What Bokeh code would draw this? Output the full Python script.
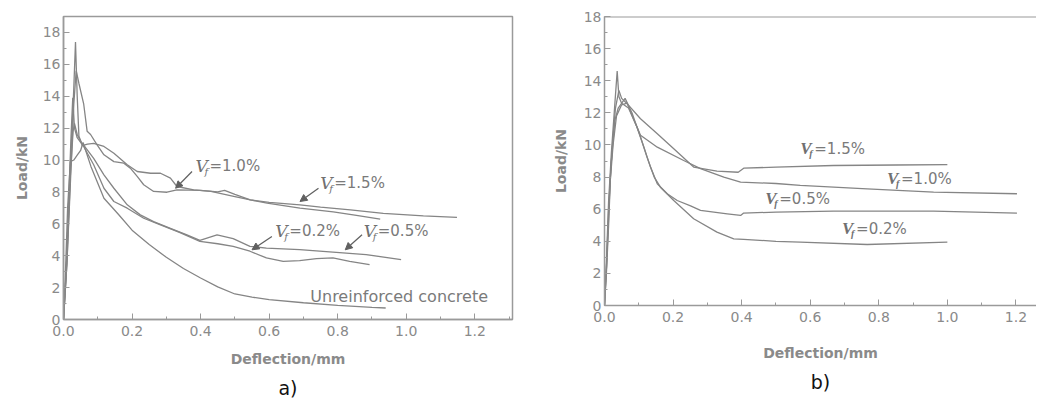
from bokeh.plotting import figure
from bokeh.layouts import row
from bokeh.models import (SingleIntervalTicker, PrintfTickFormatter, Range1d, Title,
                          Arrow, NormalHead, Span)
from bokeh.core.properties import value
from bokeh.embed import file_html
from bokeh.resources import INLINE

# ---------------- data: panel a ----------------
a_plain_x = [0, 0.005, 0.012, 0.02, 0.03, 0.04, 0.05, 0.057, 0.08, 0.118, 0.16, 0.2, 0.25, 0.3,
             0.35, 0.4, 0.45, 0.5, 0.55, 0.6, 0.7, 0.8, 0.9, 0.94]
a_plain_y = [0, 2.5, 7.0, 9.9, 10.0, 10.3, 10.6, 11.1, 9.6, 7.6, 6.6, 5.6, 4.7, 3.9,
             3.2, 2.6, 2.05, 1.6, 1.4, 1.25, 1.05, 0.88, 0.76, 0.72]
a_15_x = [0, 0.01, 0.02, 0.03, 0.035, 0.04, 0.045, 0.055, 0.07, 0.088, 0.118, 0.147, 0.186, 0.215,
          0.254, 0.283, 0.312, 0.331, 0.38, 0.43, 0.5, 0.545, 0.6, 0.69, 0.75, 0.837, 0.933, 1.05, 1.148]
a_15_y = [0, 4.0, 9.5, 14.5, 17.4, 14.0, 11.5, 10.9, 11.0, 11.05, 10.85, 10.43, 9.7, 9.28,
          9.17, 9.17, 8.86, 8.34, 8.13, 8.03, 7.71, 7.5, 7.35, 7.19, 7.05, 6.88, 6.66, 6.5, 6.4]
a_10_x = [0, 0.01, 0.02, 0.03, 0.037, 0.045, 0.059, 0.069, 0.079, 0.098, 0.118, 0.147, 0.176, 0.195,
          0.215, 0.234, 0.263, 0.302, 0.331, 0.4, 0.45, 0.47, 0.5, 0.545, 0.594, 0.69, 0.787, 0.85, 0.924]
a_10_y = [0, 3.5, 8.5, 13.5, 15.6, 14.8, 13.5, 11.8, 11.6, 10.95, 10.33, 9.9, 9.8, 9.49,
          8.97, 8.45, 8.03, 7.98, 8.13, 8.1, 8.0, 8.1, 7.85, 7.5, 7.3, 6.98, 6.75, 6.55, 6.3]
a_05_x = [0, 0.008, 0.016, 0.022, 0.027, 0.032, 0.04, 0.05, 0.06, 0.088, 0.118, 0.147, 0.186, 0.224,
          0.263, 0.312, 0.36, 0.398, 0.448, 0.495, 0.544, 0.592, 0.689, 0.786, 0.883, 0.985]
a_05_y = [0, 3.0, 8.0, 11.5, 13.9, 12.0, 11.4, 11.1, 10.9, 10.1, 9.07, 8.23, 7.19, 6.56,
          6.14, 5.72, 5.31, 4.96, 5.31, 5.07, 4.59, 4.48, 4.38, 4.23, 4.07, 3.76]
a_02_x = [0, 0.01, 0.02, 0.028, 0.032, 0.04, 0.05, 0.06, 0.088, 0.118, 0.147, 0.186, 0.234, 0.283,
          0.34, 0.398, 0.45, 0.495, 0.544, 0.592, 0.641, 0.689, 0.738, 0.786, 0.835, 0.893]
a_02_y = [0, 3.5, 9.0, 11.8, 12.3, 11.6, 11.2, 10.8, 9.7, 8.23, 7.4, 6.98, 6.35, 5.93,
          5.45, 4.9, 4.75, 4.59, 4.28, 3.86, 3.65, 3.69, 3.82, 3.86, 3.65, 3.44]

# ---------------- data: panel b ----------------
b_15_x = [0, 0.006, 0.012, 0.017, 0.025, 0.032, 0.042, 0.05, 0.066, 0.105, 0.154, 0.202, 0.26,
          0.328, 0.39, 0.397, 0.406, 0.5, 0.668, 0.85, 1.0]
b_15_y = [0, 2.5, 5.5, 8.0, 10.5, 12.3, 13.4, 12.9, 12.57, 11.63, 10.7, 9.76, 8.62,
          8.37, 8.3, 8.41, 8.55, 8.62, 8.72, 8.75, 8.78]
b_10_x = [0, 0.006, 0.012, 0.017, 0.025, 0.035, 0.05, 0.066, 0.085, 0.105, 0.154, 0.231, 0.28,
          0.348, 0.397, 0.5, 0.571, 0.766, 0.96, 1.203]
b_10_y = [0, 2.2, 5.0, 7.8, 10.0, 11.8, 12.5, 12.6, 11.6, 10.6, 9.86, 9.03, 8.52,
          7.99, 7.68, 7.6, 7.48, 7.27, 7.06, 6.96]
b_05_x = [0, 0.006, 0.012, 0.02, 0.03, 0.037, 0.042, 0.05, 0.07, 0.095, 0.115, 0.134, 0.154,
          0.183, 0.212, 0.251, 0.28, 0.358, 0.397, 0.405, 0.5, 0.668, 0.96, 1.203]
b_05_y = [0, 3.0, 6.5, 9.5, 12.5, 14.6, 13.0, 12.6, 12.3, 11.1, 9.86, 8.62, 7.58,
          6.96, 6.54, 6.2, 5.92, 5.71, 5.61, 5.75, 5.82, 5.88, 5.88, 5.75]
b_02_x = [0, 0.006, 0.012, 0.02, 0.03, 0.04, 0.06, 0.08, 0.105, 0.124, 0.145, 0.163, 0.202,
          0.26, 0.328, 0.377, 0.406, 0.5, 0.571, 0.766, 1.0]
b_02_y = [0, 2.5, 6.0, 9.0, 11.5, 12.3, 12.9, 12.0, 10.49, 9.24, 8.0, 7.37, 6.54,
          5.4, 4.57, 4.15, 4.12, 4.0, 3.95, 3.8, 3.95]

# labels: (x, y, text after "V_f")
a_labels = [(0.385, 9.6, "=1.0%"), (0.749, 8.55, "=1.5%"),
            (0.618, 5.52, "=0.2%"), (0.876, 5.52, "=0.5%")]
a_arrows = [(0.375, 9.28, 0.327, 8.23), (0.744, 8.23, 0.69, 7.4),
            (0.608, 5.2, 0.55, 4.37), (0.871, 5.31, 0.822, 4.37)]
a_plain_label = (0.72, 1.44, "Unreinforced concrete")
b_labels = [(0.571, 9.76, "=1.5%"), (0.824, 7.89, "=1.0%"),
            (0.469, 6.65, "=0.5%"), (0.693, 4.78, "=0.2%")]

LINE = "#858585"
AXIS = "#9a9a9a"
TXT = "#8a8a8a"
FONT = "DejaVu Sans"


def style(p, ylab_standoff, xlab_standoff):
    p.xgrid.visible = False
    p.ygrid.visible = False
    p.xaxis.ticker = SingleIntervalTicker(interval=0.2, num_minor_ticks=2)
    p.yaxis.ticker = SingleIntervalTicker(interval=2, num_minor_ticks=2)
    p.xaxis.formatter = PrintfTickFormatter(format="%.1f")
    for ax in (p.xaxis[0], p.yaxis[0]):
        ax.axis_line_color = AXIS
        ax.axis_line_width = 1.5
        ax.major_tick_line_color = AXIS
        ax.minor_tick_line_color = AXIS
        ax.major_tick_in = 6
        ax.major_tick_out = 0
        ax.minor_tick_in = 3
        ax.minor_tick_out = 0
        ax.major_label_text_font = FONT
        ax.major_label_text_font_size = "14px"
        ax.major_label_text_color = TXT
        ax.axis_label_text_font = FONT
        ax.axis_label_text_font_size = "14px"
        ax.axis_label_text_font_style = "bold"
        ax.axis_label_text_color = "#8a8a8a"
    p.yaxis.major_label_standoff = 3
    p.xaxis.major_label_standoff = 6
    p.yaxis.axis_label_standoff = ylab_standoff
    p.xaxis.axis_label_standoff = xlab_standoff
    p.xaxis.axis_label = "Deflection/mm"
    p.yaxis.axis_label = "Load/kN"
    p.background_fill_color = "white"
    p.border_fill_color = "white"


def add_vf(p, x, y, rest, vfont, vstyle):
    p.text(x=[x], y=[y], text=["V"], text_font=value(vfont), text_font_style=vstyle,
           text_font_size="17px", text_color="#707070", text_baseline="middle", text_align="left")
    p.text(x=[x], y=[y], text=["f"], text_font=value(vfont), text_font_style=vstyle,
           text_font_size="10px", text_color="#707070", text_baseline="middle", text_align="left",
           x_offset=9, y_offset=5)
    p.text(x=[x], y=[y], text=[rest], text_font=value(FONT), text_font_size="15px",
           text_color="#7a7a7a", text_baseline="middle", text_align="left", x_offset=14)


# ---------------- panel a ----------------
pa = figure(frame_width=449, frame_height=303, min_border_left=63, min_border_top=15,
            min_border_right=16, min_border_bottom=73, x_range=Range1d(0, 1.31),
            y_range=Range1d(0, 19), output_backend="svg", toolbar_location=None)
style(pa, 10, 12)
pa.outline_line_color = AXIS
pa.outline_line_width = 1.5
pa.outline_line_alpha = 1
for xs, ys in [(a_plain_x, a_plain_y), (a_15_x, a_15_y), (a_10_x, a_10_y),
               (a_05_x, a_05_y), (a_02_x, a_02_y)]:
    pa.line(xs, ys, line_color=LINE, line_width=1.3)
for (x, y, t) in a_labels:
    add_vf(pa, x, y, t, "DejaVu Serif", "italic")
for (x0, y0, x1, y1) in a_arrows:
    pa.add_layout(Arrow(end=NormalHead(size=7, fill_color="#606060", line_color="#606060"),
                        x_start=x0, y_start=y0, x_end=x1, y_end=y1,
                        line_color="#606060", line_width=1.2))
pa.text(x=[a_plain_label[0]], y=[a_plain_label[1]], text=[a_plain_label[2]],
        text_font=value(FONT), text_font_size="16px", text_color="#7a7a7a",
        text_baseline="middle", text_align="left")
pa.add_layout(Title(text="a)", align="center", text_font_size="19px", text_font_style="normal",
                    text_color="#111111", text_font=FONT), "below")

# ---------------- panel b ----------------
pb = figure(frame_width=432, frame_height=289, min_border_left=76, min_border_top=16,
            min_border_right=0, min_border_bottom=86, x_range=Range1d(0, 1.26),
            y_range=Range1d(0, 18), output_backend="svg", toolbar_location=None)
style(pb, 12, 20)
pb.outline_line_color = None
pb.add_layout(Span(location=18, dimension="width", line_color=AXIS, line_width=2))
for xs, ys in [(b_15_x, b_15_y), (b_10_x, b_10_y), (b_05_x, b_05_y), (b_02_x, b_02_y)]:
    pb.line(xs, ys, line_color=LINE, line_width=1.3)
for (x, y, t) in b_labels:
    add_vf(pb, x, y, t, "Liberation Serif", "bold italic")
pb.add_layout(Title(text="b)", align="center", text_font_size="19px", text_font_style="normal",
                    text_color="#111111", text_font=FONT), "below")

layout = row(pa, pb)
open("out.html", "w").write(file_html(layout, INLINE))
